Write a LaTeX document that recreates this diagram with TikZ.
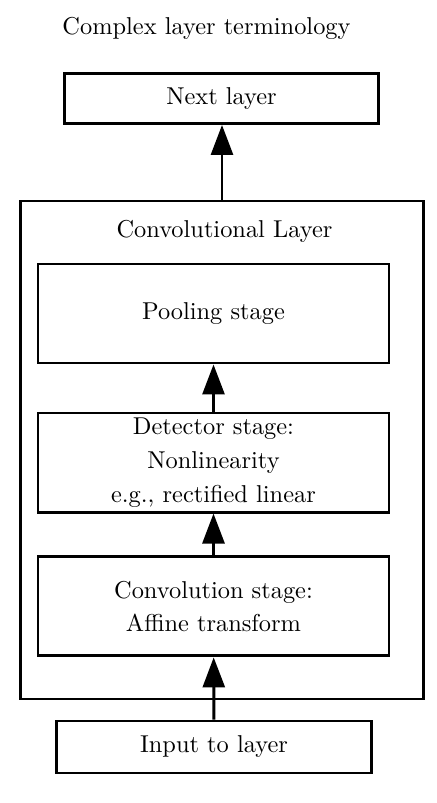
\documentclass[tikz,border=0pt]{standalone}
\usetikzlibrary{arrows.meta,positioning}
\tikzset{
  stagebox/.style={rectangle,draw,line width=1.2pt,
    minimum width=143.9pt,minimum height=40.6pt,
    align=center,inner sep=0pt,
    font=\fontsize{10}{13.8}\selectfont},
  iobox/.style={rectangle,draw,line width=1.2pt,
    minimum width=129pt,minimum height=20.5pt,
    align=center,inner sep=0pt},
  layerbox/.style={rectangle,draw,line width=1.2pt,
    minimum width=165.6pt,minimum height=204.2pt},
  arr/.style={-{Triangle[length=12.3pt,width=9pt]},line width=1.2pt},
}
\begin{document}
\begin{tikzpicture}[x=0.41pt,y=-0.41pt]
  \useasboundingbox (0,0) rectangle (437,803);
  \node (title) at (206.5,28) {Complex layer terminology};
  \node[iobox] (next) at (221.5,98.5) {Next layer};
  \node[layerbox] (layer) at (222,450) {};
  \node (layerlbl) at (224.5,231) {Convolutional Layer};
  \node[stagebox] (pool) at (213.5,313.5) {Pooling stage};
  \node[stagebox,below=19.3pt of pool] (det)
    {Detector stage:\\Nonlinearity\\e.g., rectified linear};
  \node[stagebox,below=17.2pt of det] (conv)
    {Convolution stage:\\Affine transform};
  \node[iobox,minimum height=21.3pt] (input) at (214,747) {Input to layer};

  \draw[arr] (input) -- (conv);
  \draw[arr] (conv) -- (det);
  \draw[arr] (det) -- (pool);
  \draw[arr] (layer.north) -- (layer.north |- next.south);
\end{tikzpicture}
\end{document}
